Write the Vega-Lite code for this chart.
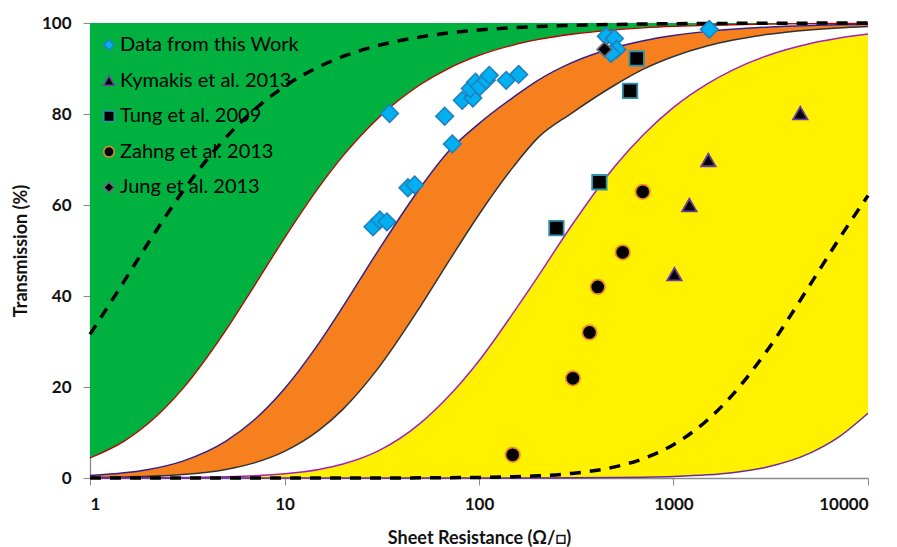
{
  "$schema": "https://vega.github.io/schema/vega-lite/v6.json",
  "width": 778,
  "height": 455,
  "autosize": "none",
  "padding": {"left": 90, "top": 23, "right": 29, "bottom": 69},
  "config": {
    "view": {"stroke": null},
    "font": "Lato, DejaVu Sans",
    "axis": {
      "grid": false,
      "domainColor": "#8a8a8a",
      "domainWidth": 1.3,
      "tickColor": "#8a8a8a",
      "tickWidth": 1,
      "tickSize": 7,
      "labelFont": "Lato, DejaVu Sans",
      "labelFontSize": 17,
      "labelFontWeight": "bold",
      "labelColor": "#111111",
      "titleFont": "Lato, DejaVu Sans",
      "titleFontSize": 18,
      "titleFontWeight": "bold",
      "titleColor": "#111111"
    },
    "axisX": {"labelPadding": 11, "titlePadding": 17},
    "axisY": {"labelPadding": 12, "titlePadding": 11},
    "legend": {"title": null, "orient": "none", "legendX": 9, "legendY": 12, "padding": 0, "labelFont": "Lato, DejaVu Sans", "labelFontSize": 20, "labelColor": "#000000", "rowPadding": 15.6, "labelOffset": 1, "labelLimit": 300, "symbolSize": 110}
  },
  "datasets": {
    "curves": [
      {"R": 1, "d1": 31.56, "g": 4.39, "b": 0.54, "k": 0.10, "m": 0.01, "p": 0, "d2": 0},
      {"R": 1.5, "d1": 43.28, "g": 8.10, "b": 1.14, "k": 0.21, "m": 0.02, "p": 0, "d2": 0},
      {"R": 2, "d1": 51.76, "g": 12.01, "b": 1.88, "k": 0.36, "m": 0.04, "p": 0, "d2": 0},
      {"R": 3, "d1": 62.99, "g": 19.64, "b": 3.71, "k": 0.76, "m": 0.10, "p": 0, "d2": 0},
      {"R": 5, "d1": 74.83, "g": 32.50, "b": 8.10, "k": 1.89, "m": 0.26, "p": 0, "d2": 0},
      {"R": 7, "d1": 80.95, "g": 42.24, "b": 12.79, "k": 3.32, "m": 0.48, "p": 0, "d2": 0},
      {"R": 10, "d1": 86.05, "g": 52.74, "b": 19.63, "k": 5.84, "m": 0.93, "p": 0, "d2": 0},
      {"R": 15, "d1": 90.36, "g": 63.86, "b": 29.60, "k": 10.45, "m": 1.89, "p": 0, "d2": 0.003},
      {"R": 20, "d1": 92.64, "g": 70.80, "b": 37.71, "k": 15.14, "m": 3.08, "p": 0, "d2": 0.005},
      {"R": 30, "d1": 95.00, "g": 78.92, "b": 49.66, "k": 23.87, "m": 5.85, "p": 0, "d2": 0.01},
      {"R": 50, "d1": 96.95, "g": 86.47, "b": 63.86, "k": 37.73, "m": 12.06, "p": 0, "d2": 0.03},
      {"R": 70, "d1": 97.81, "g": 90.04, "b": 71.87, "k": 47.66, "m": 18.00, "p": 0, "d2": 0.06},
      {"R": 100, "d1": 98.46, "g": 92.87, "b": 77.90, "k": 57.92, "m": 25.77, "p": 0, "d2": 0.13},
      {"R": 150, "d1": 98.97, "g": 95.16, "b": 83.66, "k": 68.38, "m": 36.29, "p": 0.01, "d2": 0.28},
      {"R": 200, "d1": 99.22, "g": 96.33, "b": 87.34, "k": 74.70, "m": 44.15, "p": 0.01, "d2": 0.48},
      {"R": 300, "d1": 99.48, "g": 97.53, "b": 91.28, "k": 80.20, "m": 55.55, "p": 0.03, "d2": 1.01},
      {"R": 500, "d1": 99.69, "g": 98.51, "b": 94.63, "k": 86.37, "m": 68.53, "p": 0.09, "d2": 2.45},
      {"R": 700, "d1": 99.78, "g": 98.93, "b": 96.12, "k": 89.85, "m": 75.43, "p": 0.17, "d2": 4.26},
      {"R": 1000, "d1": 99.84, "g": 99.25, "b": 97.26, "k": 92.63, "m": 81.46, "p": 0.33, "d2": 7.33},
      {"R": 1500, "d1": 99.90, "g": 99.50, "b": 98.16, "k": 95.00, "m": 86.69, "p": 0.69, "d2": 12.80},
      {"R": 2000, "d1": 99.92, "g": 99.62, "b": 98.61, "k": 96.21, "m": 89.59, "p": 1.17, "d2": 18.16},
      {"R": 3000, "d1": 99.95, "g": 99.75, "b": 99.07, "k": 97.45, "m": 92.75, "p": 2.37, "d2": 27.77},
      {"R": 5000, "d1": 99.97, "g": 99.85, "b": 99.44, "k": 98.46, "m": 95.44, "p": 5.41, "d2": 42.24},
      {"R": 7000, "d1": 99.98, "g": 99.89, "b": 99.60, "k": 98.90, "m": 96.63, "p": 8.87, "d2": 52.15},
      {"R": 10000, "d1": 99.98, "g": 99.92, "b": 99.72, "k": 99.22, "m": 97.56, "p": 14.24, "d2": 62.07}
    ],
    "pts": [
      {"S": "Data from this Work", "R": 34.7, "T": 80.1},
      {"S": "Data from this Work", "R": 66.6, "T": 79.5},
      {"S": "Data from this Work", "R": 72.9, "T": 73.4},
      {"S": "Data from this Work", "R": 43.1, "T": 63.8},
      {"S": "Data from this Work", "R": 46.7, "T": 64.4},
      {"S": "Data from this Work", "R": 28.5, "T": 55.2},
      {"S": "Data from this Work", "R": 30.9, "T": 56.7},
      {"S": "Data from this Work", "R": 33.6, "T": 56.3},
      {"S": "Data from this Work", "R": 82, "T": 83.0},
      {"S": "Data from this Work", "R": 93, "T": 83.5},
      {"S": "Data from this Work", "R": 90.2, "T": 85.6},
      {"S": "Data from this Work", "R": 96, "T": 87.0},
      {"S": "Data from this Work", "R": 100.7, "T": 86.0},
      {"S": "Data from this Work", "R": 109, "T": 87.4},
      {"S": "Data from this Work", "R": 113, "T": 88.5},
      {"S": "Data from this Work", "R": 138, "T": 87.4},
      {"S": "Data from this Work", "R": 160, "T": 88.7},
      {"S": "Data from this Work", "R": 451, "T": 97.1},
      {"S": "Data from this Work", "R": 497, "T": 96.6},
      {"S": "Data from this Work", "R": 511, "T": 94.2},
      {"S": "Data from this Work", "R": 478, "T": 93.3},
      {"S": "Data from this Work", "R": 1527, "T": 98.6},
      {"S": "Kymakis et al. 2013", "R": 4487, "T": 80.2},
      {"S": "Kymakis et al. 2013", "R": 1511, "T": 69.9},
      {"S": "Kymakis et al. 2013", "R": 1207, "T": 60.0},
      {"S": "Kymakis et al. 2013", "R": 1011, "T": 44.8},
      {"S": "Tung et al. 2009", "R": 250, "T": 54.9},
      {"S": "Tung et al. 2009", "R": 416, "T": 65.0},
      {"S": "Tung et al. 2009", "R": 598, "T": 85.1},
      {"S": "Tung et al. 2009", "R": 647, "T": 92.2},
      {"S": "Zahng et al. 2013", "R": 149, "T": 5.1},
      {"S": "Zahng et al. 2013", "R": 304, "T": 21.9},
      {"S": "Zahng et al. 2013", "R": 370, "T": 32.0},
      {"S": "Zahng et al. 2013", "R": 408, "T": 42.0},
      {"S": "Zahng et al. 2013", "R": 548, "T": 49.6},
      {"S": "Zahng et al. 2013", "R": 695, "T": 62.9},
      {"S": "Jung et al. 2013", "R": 442, "T": 94.2}
    ]
  },
  "encoding": {
    "x": {
      "field": "R",
      "type": "quantitative",
      "scale": {"type": "log", "domain": [1, 10000], "nice": false},
      "axis": {"values": [1, 10, 100, 1000, 10000], "format": "d", "title": "Sheet Resistance (Ω/□)"}
    }
  },
  "layer": [
    {
      "data": {"name": "curves"},
      "mark": {"type": "area", "color": "#00B140", "interpolate": "monotone"},
      "encoding": {
        "y": {"field": "g", "type": "quantitative", "scale": {"domain": [0, 100], "nice": false}, "axis": {"values": [0, 20, 40, 60, 80, 100]}, "title": "Transmission (%)"},
        "y2": {"datum": 100}
      }
    },
    {
      "data": {"name": "curves"},
      "mark": {"type": "area", "color": "#F7801E", "interpolate": "monotone"},
      "encoding": {
        "y": {"field": "k", "type": "quantitative", "title": "Transmission (%)"},
        "y2": {"field": "b"}
      }
    },
    {
      "data": {"name": "curves"},
      "mark": {"type": "area", "color": "#FFF100", "interpolate": "monotone"},
      "encoding": {
        "y": {"field": "p", "type": "quantitative", "title": "Transmission (%)"},
        "y2": {"field": "m"}
      }
    },
    {
      "data": {"name": "curves"},
      "mark": {"type": "line", "color": "#C00000", "strokeWidth": 1.3, "interpolate": "monotone"},
      "encoding": {"y": {"field": "g", "type": "quantitative", "title": "Transmission (%)"}}
    },
    {
      "data": {"name": "curves"},
      "mark": {"type": "line", "color": "#33208F", "strokeWidth": 1.5, "interpolate": "monotone"},
      "encoding": {"y": {"field": "b", "type": "quantitative", "title": "Transmission (%)"}}
    },
    {
      "data": {"name": "curves"},
      "mark": {"type": "line", "color": "#333333", "strokeWidth": 1.5, "interpolate": "monotone"},
      "encoding": {"y": {"field": "k", "type": "quantitative", "title": "Transmission (%)"}}
    },
    {
      "data": {"name": "curves"},
      "mark": {"type": "line", "color": "#A020C0", "strokeWidth": 1.5, "interpolate": "monotone"},
      "encoding": {"y": {"field": "m", "type": "quantitative", "title": "Transmission (%)"}}
    },
    {
      "data": {"name": "curves"},
      "mark": {"type": "line", "color": "#6A2C91", "strokeWidth": 1.5, "interpolate": "monotone"},
      "encoding": {"y": {"field": "p", "type": "quantitative", "title": "Transmission (%)"}}
    },
    {
      "data": {"name": "curves"},
      "mark": {"type": "line", "color": "#000000", "strokeWidth": 3.5, "strokeDash": [11, 9], "interpolate": "monotone"},
      "encoding": {"y": {"field": "d1", "type": "quantitative", "title": "Transmission (%)"}}
    },
    {
      "data": {"name": "curves"},
      "mark": {"type": "line", "color": "#000000", "strokeWidth": 3.5, "strokeDash": [11, 9], "interpolate": "monotone"},
      "encoding": {"y": {"field": "d2", "type": "quantitative", "title": "Transmission (%)"}}
    },
    {
      "data": {"name": "pts"},
      "transform": [{"filter": "datum.S === 'Data from this Work'"}],
      "mark": {"type": "point", "filled": true, "opacity": 1, "strokeWidth": 1.6, "size": 310},
      "encoding": {
        "y": {"field": "T", "type": "quantitative", "title": "Transmission (%)"},
        "shape": {
          "field": "S", "type": "nominal",
          "scale": {"domain": ["Data from this Work", "Kymakis et al. 2013", "Tung et al. 2009", "Zahng et al. 2013", "Jung et al. 2013"], "range": ["diamond", "triangle-up", "square", "circle", "diamond"]}
        },
        "fill": {
          "field": "S", "type": "nominal",
          "scale": {"domain": ["Data from this Work", "Kymakis et al. 2013", "Tung et al. 2009", "Zahng et al. 2013", "Jung et al. 2013"], "range": ["#00B0F0", "#000000", "#000000", "#000000", "#000000"]}
        },
        "stroke": {
          "field": "S", "type": "nominal",
          "scale": {"domain": ["Data from this Work", "Kymakis et al. 2013", "Tung et al. 2009", "Zahng et al. 2013", "Jung et al. 2013"], "range": ["#2080C0", "#6A3FA0", "#2F95AA", "#F08A30", "#6A6A80"]}
        }
      }
    },
    {
      "data": {"name": "pts"},
      "transform": [{"filter": "datum.S !== 'Data from this Work'"}],
      "mark": {"type": "point", "filled": true, "opacity": 1, "strokeWidth": 1.8, "size": 210},
      "encoding": {
        "y": {"field": "T", "type": "quantitative", "title": "Transmission (%)"},
        "shape": {"field": "S", "type": "nominal"},
        "fill": {"field": "S", "type": "nominal"},
        "stroke": {"field": "S", "type": "nominal"}
      }
    }
  ]
}
